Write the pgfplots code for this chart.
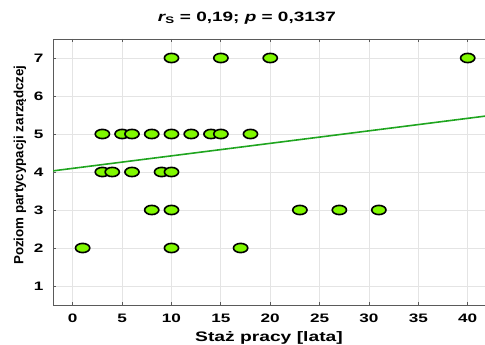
\documentclass[border=0pt]{standalone}
\usepackage{fontspec}
\setmainfont{Liberation Sans}[FakeStretch=1.4]
\newfontfamily\ylabfont{Liberation Sans}
\usepackage{pgfplots}
\pgfplotsset{compat=1.18}
\definecolor{ptfill}{HTML}{80F800}
\definecolor{fitline}{HTML}{1FA51F}
\definecolor{gridc}{HTML}{E4E4E4}
\definecolor{axc}{HTML}{5A5A5A}
\begin{document}
\begin{tikzpicture}
\begin{axis}[
  name=ax,
  scale only axis,
  width=432bp, height=266bp,
  xmin=-2, xmax=41.75, ymin=0.5, ymax=7.5,
  xtick={0,5,...,40}, ytick={1,2,...,7},
  grid=major,
  major grid style={gridc, line width=0.8pt},
  axis x line*=box, axis y line*=left,
  axis line style={axc, line width=0.9pt},
  tick style={axc, line width=0.8pt},
  major tick length=3bp,
  tick align=inside,
  /pgf/number format/assume math mode=true,
  tick label style={font=\fontsize{12.3}{14}\selectfont\bfseries},
  xticklabel style={anchor=base, yshift=-17bp},
  yticklabel style={anchor=east, xshift=-6bp},
  title={{\bfseries\itshape r}\textsubscript{\bfseries S}\bfseries{} = 0,19; {\itshape p} = 0,3137},
  title style={at={(axis description cs:0.449,1.045)}, anchor=base, font=\fontsize{13.6}{15}\selectfont\bfseries},
  xlabel={Staż pracy [lata]},
  xlabel style={at={(axis description cs:0.5,-0.139)}, anchor=base, font=\fontsize{13.8}{15}\selectfont\bfseries},
  ylabel={Poziom partycypacji zarządczej},
  ylabel style={at={(axis description cs:-0.0764,0.526)}, anchor=center, font=\ylabfont\fontsize{13.4}{15}\selectfont\bfseries},
]
\addplot[fitline, line width=1.6bp] coordinates {(-2,4.03) (41.75,5.47)};
\addplot[only marks, mark=*, mark size=4.6bp,
  mark options={xscale=1.55, fill=ptfill, draw=black, line width=1.6bp}]
coordinates {
(10,7) (15,7) (20,7) (40,7)
(3,5) (5,5) (6,5) (8,5) (10,5) (12,5) (14,5) (15,5) (18,5)
(3,4) (4,4) (6,4) (9,4) (10,4)
(8,3) (10,3) (23,3) (27,3) (31,3)
(1,2) (10,2) (17,2)
};
\end{axis}
\pgfresetboundingbox
\path[use as bounding box] ([shift={(-53bp,-40bp)}]ax.south west) rectangle ([shift={(0bp,39bp)}]ax.north east);
\end{tikzpicture}
\end{document}
